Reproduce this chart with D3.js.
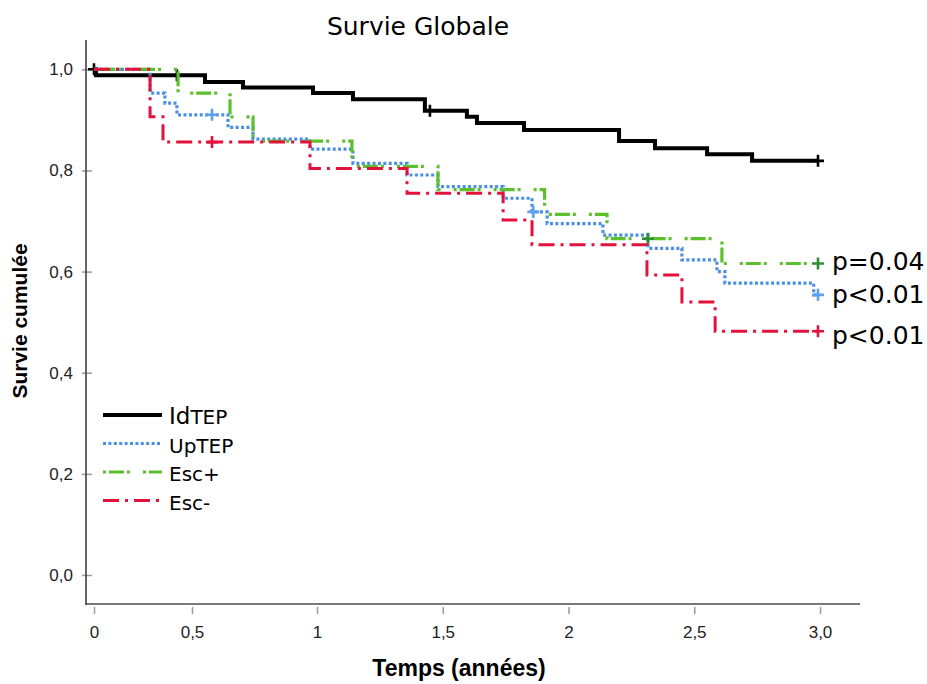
<!DOCTYPE html>
<html>
<head>
<meta charset="utf-8">
<script src="https://cdn.jsdelivr.net/npm/d3@7"></script>
<style>
  html, body { margin: 0; padding: 0; background: #fff; }
  svg { display: block; }
</style>
</head>
<body>
<svg id="chart" width="927" height="684"></svg>
<script>
// ---------------- DATA ----------------
const groups = ["IdTEP", "UpTEP", "Esc+", "Esc-"];
const pLabels = ["p=0.04", "p<0.01", "p<0.01"];   // for Esc+, UpTEP, Esc-

const idTimes  = [0, 0.01, 0.552, 0.704, 0.984, 1.143, 1.429, 1.596, 1.636, 1.823, 2.201, 2.344, 2.551, 2.730, 2.992];
const idSurv   = [1.0, 0.988, 0.975, 0.964, 0.953, 0.941, 0.918, 0.906, 0.894, 0.880, 0.858, 0.844, 0.832, 0.819, 0.819];
const idCensor = [0, 0.423, 1.449, 2.992];

const upTimes  = [0, 0.286, 0.362, 0.423, 0.644, 0.744, 0.972, 1.143, 1.358, 1.481, 1.740, 1.855, 1.915, 2.137, 2.316, 2.451, 2.590, 2.622, 2.975, 2.992];
const upSurv   = [1.0, 0.953, 0.933, 0.910, 0.885, 0.862, 0.842, 0.814, 0.791, 0.768, 0.745, 0.718, 0.695, 0.672, 0.646, 0.623, 0.600, 0.577, 0.554, 0.554];
const upCensor = [0.58, 1.86, 2.992];

const escPTimes  = [0, 0.429, 0.652, 0.744, 1.139, 1.481, 1.905, 2.153, 2.610, 2.992];
const escPSurv   = [1.0, 0.953, 0.906, 0.858, 0.808, 0.762, 0.713, 0.665, 0.616, 0.616];
const escPCensor = [2.316, 2.992];

const escMTimes  = [0, 0.286, 0.352, 0.972, 1.358, 1.740, 1.855, 2.312, 2.451, 2.583, 2.992];
const escMSurv   = [1.0, 0.906, 0.856, 0.804, 0.755, 0.702, 0.653, 0.593, 0.540, 0.482, 0.482];
const escMCensor = [0.58, 2.992];

const xTickValues = [0, 0.5, 1, 1.5, 2, 2.5, 3];
const xTickLabels = ["0", "0,5", "1", "1,5", "2", "2,5", "3,0"];
const yTickValues = [0, 0.2, 0.4, 0.6, 0.8, 1.0];
const yTickLabels = ["0,0", "0,2", "0,4", "0,6", "0,8", "1,0"];

// ---------------- LAYOUT ----------------
const svg = d3.select("#chart");
const axisLeftX = 86, axisTop = 40, axisBottomY = 604, axisRightX = 860;

// the original axis has a compressed first half-year
const x = d3.scaleLinear().domain([0, 0.5, 1, 3]).range([94, 192, 317, 820]);
const y = d3.scaleLinear().domain([0, 1]).range([575, 69.3]);

const series = [
  { name: groups[0], t: idTimes,   s: idSurv,   c: idCensor,   color: "#000000", mark: "#000000", width: 4,   dash: null },
  { name: groups[1], t: upTimes,   s: upSurv,   c: upCensor,   color: "#4a8fe3", mark: "#5fa0ec", width: 3.2, dash: "3,2.4" },
  { name: groups[2], t: escPTimes, s: escPSurv, c: escPCensor, color: "#5cc02c", mark: "#2f8f2f", width: 3.2, dash: "3,3,15,3,3,13" },
  { name: groups[3], t: escMTimes, s: escMSurv, c: escMCensor, color: "#e2123c", mark: "#e2123c", width: 3,   dash: "16,6,3,6" }
];

// ---------------- AXES ----------------
const xAxis = d3.axisBottom(x)
  .tickValues(xTickValues)
  .tickFormat((d, i) => xTickLabels[i])
  .tickSize(9).tickSizeOuter(0).tickPadding(12);
const gx = svg.append("g").attr("transform", `translate(0,${axisBottomY + 1})`).call(xAxis);
gx.select(".domain").remove();
gx.selectAll(".tick line").attr("stroke", "#9a9a9a").attr("stroke-width", 1.5).attr("y1", 2);
gx.selectAll(".tick text")
  .attr("font-family", "'Liberation Sans Narrow', 'Arial Narrow', 'Liberation Sans', sans-serif")
  .attr("font-size", 17).attr("fill", "#222");

svg.append("line")
  .attr("x1", axisLeftX).attr("x2", axisRightX)
  .attr("y1", axisBottomY).attr("y2", axisBottomY)
  .attr("stroke", "#7a7a7a").attr("stroke-width", 2);

const yAxis = d3.axisLeft(y)
  .tickValues(yTickValues)
  .tickFormat((d, i) => yTickLabels[i])
  .tickSize(5).tickSizeOuter(0).tickPadding(8);
const gy = svg.append("g").attr("transform", `translate(${axisLeftX},0)`).call(yAxis);
gy.select(".domain").remove();
gy.selectAll(".tick line").attr("stroke", "#9a9a9a").attr("stroke-width", 1.5).attr("x2", 6).attr("x1", -4);
gy.selectAll(".tick text")
  .attr("font-family", "'Liberation Sans Narrow', 'Arial Narrow', 'Liberation Sans', sans-serif")
  .attr("font-size", 17).attr("fill", "#222");

svg.append("line")
  .attr("x1", axisLeftX).attr("x2", axisLeftX)
  .attr("y1", axisTop).attr("y2", axisBottomY + 1)
  .attr("stroke", "#333").attr("stroke-width", 1.5);

// ---------------- CURVES ----------------
const line = d3.line()
  .x(d => x(d[0])).y(d => y(d[1]))
  .curve(d3.curveStepAfter);

function survAt(sr, t) {
  let v = sr.s[0];
  for (let i = 0; i < sr.t.length; i++) if (sr.t[i] <= t + 1e-9) v = sr.s[i];
  return v;
}

series.forEach(sr => {
  const pts = sr.t.map((t, i) => [t, sr.s[i]]);
  svg.append("path")
    .attr("d", line(pts))
    .attr("fill", "none")
    .attr("stroke", sr.color)
    .attr("stroke-width", sr.width)
    .attr("stroke-dasharray", sr.dash)
    .attr("stroke-linejoin", "miter");

  sr.c.forEach(t => {
    const cx = x(t), cy = y(survAt(sr, t));
    svg.append("path")
      .attr("d", `M${cx - 6},${cy}H${cx + 6}M${cx},${cy - 6}V${cy + 6}`)
      .attr("stroke", sr.mark)
      .attr("stroke-width", 2.6)
      .attr("fill", "none");
  });
});

// ---------------- P-VALUES ----------------
const pFont = "'DejaVu Sans', Verdana, sans-serif";
const pSeries = [series[2], series[1], series[3]];
const pOffsets = [7, 8, 13];
pSeries.forEach((sr, i) => {
  svg.append("text")
    .attr("x", x(3) + 12)
    .attr("y", y(sr.s[sr.s.length - 1]) + pOffsets[i])
    .attr("font-family", pFont)
    .attr("font-size", 25)
    .attr("fill", "#000")
    .text(pLabels[i]);
});

// ---------------- TITLES ----------------
svg.append("text")
  .attr("x", 418).attr("y", 35)
  .attr("text-anchor", "middle")
  .attr("font-family", pFont)
  .attr("font-size", 25)
  .attr("fill", "#000")
  .text("Survie Globale");

svg.append("text")
  .attr("x", 459).attr("y", 676)
  .attr("text-anchor", "middle")
  .attr("font-family", "'Liberation Sans Narrow', 'Arial Narrow', 'Liberation Sans', sans-serif")
  .attr("font-weight", "bold")
  .attr("font-size", 23)
  .attr("fill", "#000")
  .text("Temps (années)");

svg.append("text")
  .attr("transform", "translate(27,321) rotate(-90)")
  .attr("text-anchor", "middle")
  .attr("font-family", "'Liberation Sans', Arial, sans-serif")
  .attr("font-weight", "bold")
  .attr("font-size", 21)
  .attr("fill", "#000")
  .text("Survie cumulée");

// ---------------- LEGEND ----------------
const legX1 = 103, legX2 = 162, legTextX = 169, legY0 = 415, legStep = 28.5;
series.forEach((sr, i) => {
  const ly = legY0 + i * legStep;
  svg.append("line")
    .attr("x1", legX1).attr("x2", legX2)
    .attr("y1", ly).attr("y2", ly)
    .attr("stroke", sr.color)
    .attr("stroke-width", sr.width)
    .attr("stroke-dasharray", sr.dash);
  const tx = svg.append("text")
    .attr("x", legTextX).attr("y", ly + 9)
    .attr("font-family", pFont)
    .attr("font-size", 20)
    .attr("fill", "#000");
  if (i === 0) {
    tx.append("tspan").attr("font-size", 23).text(sr.name.slice(0, 2));
    tx.append("tspan").text(sr.name.slice(2));
  } else {
    tx.text(sr.name);
  }
});
</script>
</body>
</html>
